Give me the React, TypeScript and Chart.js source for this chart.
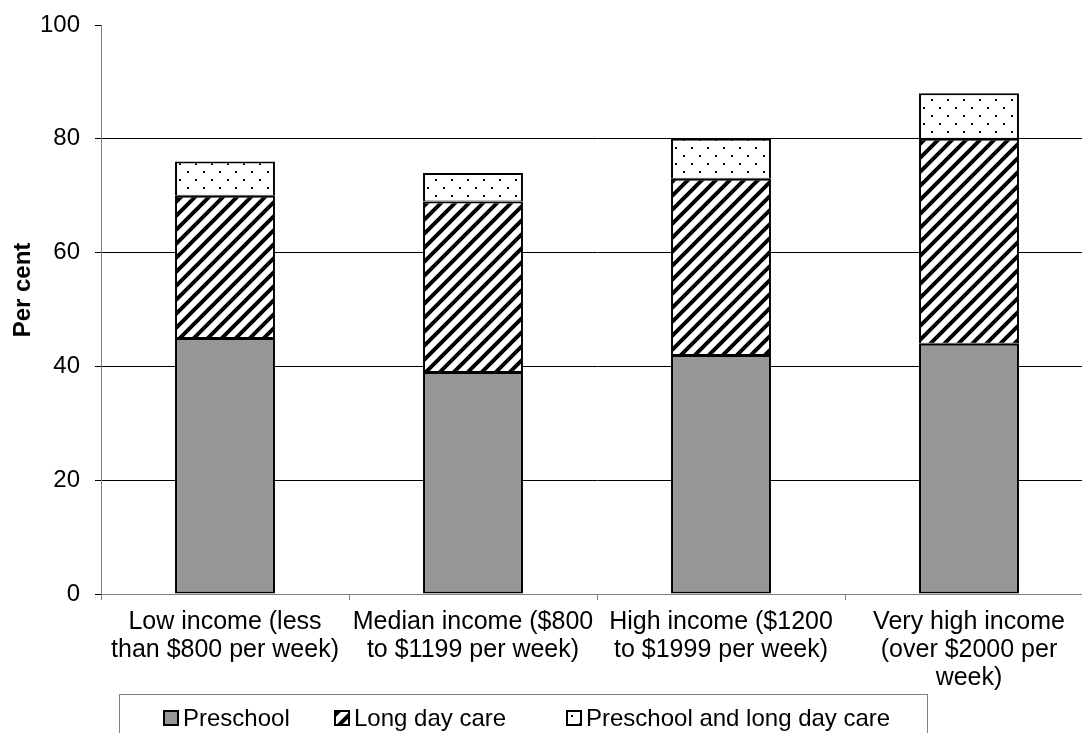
import { useEffect, useRef } from "react";
import { Chart, registerables } from "chart.js";

Chart.register(...registerables);

// Income groups shown along the x axis (multi-line labels)
const categories: string[][] = [
  ["Low income (less", "than $800 per week)"],
  ["Median income ($800", "to $1199 per week)"],
  ["High income ($1200", "to $1999 per week)"],
  ["Very high income", "(over $2000 per", "week)"],
];

// Per cent of children attending each type of care
const preschool = [45, 39, 42, 44];
const longDayCare = [25, 30, 31, 36];
const preschoolAndLongDayCare = [6, 5, 7, 8];

const seriesNames = ["Preschool", "Long day care", "Preschool and long day care"];
const yAxisTitle = "Per cent";
const yMin = 0;
const yMax = 100;
const yStep = 20;

const FONT = '"Liberation Sans", Arial, Helvetica, sans-serif';
const W = 1100;
const H = 745;

function makeHatch(): CanvasPattern | string {
  const s = 14;
  const c = document.createElement("canvas");
  c.width = s;
  c.height = s;
  const g = c.getContext("2d");
  if (!g) return "#fff";
  g.fillStyle = "#fff";
  g.fillRect(0, 0, s, s);
  g.strokeStyle = "#000";
  g.lineWidth = 4;
  g.beginPath();
  g.moveTo(-1, s + 1);
  g.lineTo(s + 1, -1);
  g.moveTo(-s / 2 - 1, s / 2 + 1);
  g.lineTo(s / 2 + 1, -s / 2 - 1);
  g.moveTo(s / 2 - 1, s * 1.5 + 1);
  g.lineTo(s * 1.5 + 1, s / 2 - 1);
  g.stroke();
  return g.createPattern(c, "repeat") || "#fff";
}

function makeDots(): CanvasPattern | string {
  const s = 16;
  const c = document.createElement("canvas");
  c.width = s;
  c.height = s;
  const g = c.getContext("2d");
  if (!g) return "#fff";
  g.fillStyle = "#fff";
  g.fillRect(0, 0, s, s);
  g.fillStyle = "#000";
  g.fillRect(3, 3, 2, 2);
  g.fillRect(11, 11, 2, 2);
  return g.createPattern(c, "repeat") || "#fff";
}

export default function App() {
  const canvasRef = useRef<HTMLCanvasElement | null>(null);

  useEffect(() => {
    const canvas = canvasRef.current;
    if (!canvas) return;
    const hatch = makeHatch();
    const dots = makeDots();
    const fills: (string | CanvasPattern)[] = ["#969696", hatch, dots];

    // Y-axis title and the boxed legend underneath the category labels
    const decorations = {
      id: "decorations",
      afterDraw(chart: any) {
        const ctx: CanvasRenderingContext2D = chart.ctx;
        ctx.save();
        ctx.fillStyle = "#000";
        ctx.font = `bold 24px ${FONT}`;
        ctx.translate(30, 290);
        ctx.rotate(-Math.PI / 2);
        ctx.textAlign = "center";
        ctx.textBaseline = "alphabetic";
        ctx.fillText(yAxisTitle, 0, 0);
        ctx.restore();

        ctx.save();
        ctx.strokeStyle = "#808080";
        ctx.lineWidth = 1;
        ctx.strokeRect(119.5, 694.5, 808, 60);
        ctx.font = `24px ${FONT}`;
        ctx.textBaseline = "alphabetic";
        ctx.textAlign = "left";
        const sw = 16;
        const afterSwatch = 4;
        const swatchX = [163, 334, 566];
        const base = 726;
        seriesNames.forEach((name, i) => {
          const x = swatchX[i];
          ctx.fillStyle = fills[i] as any;
          ctx.fillRect(x, base - sw, sw, sw);
          ctx.strokeStyle = "#000";
          ctx.lineWidth = 2;
          ctx.strokeRect(x + 1, base - sw + 1, sw - 2, sw - 2);
          ctx.fillStyle = "#000";
          ctx.fillText(name, x + sw + afterSwatch, base);
        });
        ctx.restore();
      },
    };

    const chart = new Chart(canvas, {
      type: "bar",
      data: {
        labels: categories,
        datasets: [
          {
            label: seriesNames[0],
            data: preschool,
            backgroundColor: fills[0] as any,
            borderColor: "#000",
            borderWidth: { top: 2, bottom: 2, left: 2, right: 2 },
            borderSkipped: false,
          },
          {
            label: seriesNames[1],
            data: longDayCare,
            backgroundColor: fills[1] as any,
            borderColor: "#000",
            borderWidth: { top: 2, bottom: 1, left: 2, right: 2 },
            borderSkipped: false,
          },
          {
            label: seriesNames[2],
            data: preschoolAndLongDayCare,
            backgroundColor: fills[2] as any,
            borderColor: "#000",
            borderWidth: { top: 2, bottom: 1, left: 2, right: 2 },
            borderSkipped: false,
          },
        ],
      },
      options: {
        responsive: false,
        animation: false,
        devicePixelRatio: 1,
        layout: { padding: { top: 25, right: 7, left: 0, bottom: 0 } },
        datasets: {
          bar: { categoryPercentage: 1, barPercentage: 0.403 },
        },
        plugins: {
          legend: { display: false },
          tooltip: { enabled: false },
          title: { display: false },
        },
        scales: {
          x: {
            stacked: true,
            offset: true,
            grid: {
              offset: true,
              drawOnChartArea: false,
              drawTicks: true,
              tickLength: 6,
              color: "#808080",
            },
            border: { display: true, color: "#808080", width: 1 },
            ticks: {
              color: "#000",
              font: { family: FONT, size: 25, lineHeight: 1.12 },
              padding: 8,
              maxRotation: 0,
              autoSkip: false,
            },
            afterFit(scale: any) {
              scale.height = H - 594;
              scale.paddingLeft = 0;
              scale.paddingRight = 0;
            },
          },
          y: {
            stacked: true,
            min: yMin,
            max: yMax,
            ticks: {
              stepSize: yStep,
              color: "#000",
              font: { family: FONT, size: 24 },
              padding: 15,
            },
            grid: {
              drawTicks: true,
              tickLength: 6,
              color: (ctx: any) =>
                ctx.tick && ctx.tick.value === yMax
                  ? "rgba(0,0,0,0)"
                  : ctx.tick && ctx.tick.value === yMin
                  ? "#808080"
                  : "#000",
              tickColor: "#000",
              lineWidth: 1,
            },
            border: { display: true, color: "#808080", width: 1 },
            afterFit(scale: any) {
              scale.width = 101;
              scale.paddingTop = 0;
              scale.paddingBottom = 0;
            },
          },
        },
      },
      plugins: [decorations],
    });

    return () => {
      chart.destroy();
    };
  }, []);

  return (
    <div
      style={{
        position: "fixed",
        left: 0,
        top: 0,
        width: 1082,
        height: 733,
        overflow: "hidden",
        background: "#fff",
      }}
    >
      <canvas ref={canvasRef} width={W} height={H} style={{ display: "block" }} />
    </div>
  );
}
